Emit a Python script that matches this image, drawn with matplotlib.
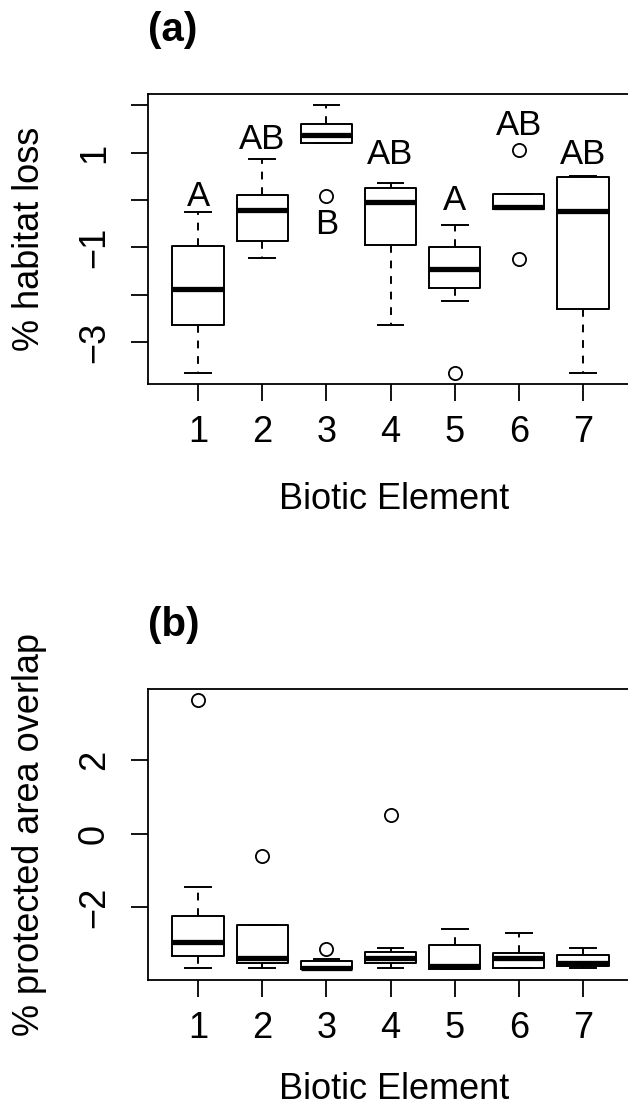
import numpy as np
import matplotlib
matplotlib.use("Agg")
from matplotlib import pyplot as plt

plt.rcParams['font.family'] = ['Liberation Sans', 'DejaVu Sans']

# Biotic elements 1..7
groups = [1, 2, 3, 4, 5, 6, 7]

# (a) % habitat loss, box stats
whislo_a = [-3.66, -1.23, 1.21, -2.65, -2.14, -0.18, -3.66]
q1_a = [-2.65, -0.86, 1.21, -0.95, -1.85, -0.18, -2.30]
med_a = [-1.88, -0.21, 1.37, -0.05, -1.45, -0.15, -0.23]
q3_a = [-0.98, 0.10, 1.61, 0.26, -1.00, 0.13, 0.49]
whishi_a = [-0.25, 0.86, 2.01, 0.35, -0.53, 0.13, 0.51]
fliers_a = [[], [], [0.09], [], [-3.66], [1.05, -1.24], []]
letters_a = ["A", "AB", "B", "AB", "A", "AB", "AB"]
letter_y_a = [0.07, 1.28, -0.52, 0.97, -0.02, 1.58, 0.97]

# (b) % protected area overlap
whislo_b = [-3.66, -3.66, -3.69, -3.66, -3.68, -3.66, -3.66]
q1_b = [-3.33, -3.53, -3.69, -3.53, -3.68, -3.66, -3.60]
med_b = [-2.95, -3.37, -3.65, -3.38, -3.61, -3.37, -3.52]
q3_b = [-2.24, -2.49, -3.46, -3.22, -3.04, -3.25, -3.30]
whishi_b = [-1.45, -2.49, -3.42, -3.12, -2.58, -2.71, -3.12]
fliers_b = [[3.65], [-0.61], [-3.13], [0.51], [], [], []]


def make_stats(lo, q1, med, q3, hi, fl):
    return [dict(whislo=lo[i], q1=q1[i], med=med[i], q3=q3[i], whishi=hi[i],
                 fliers=fl[i]) for i in range(len(groups))]


def draw_panel(ax, stats, ylabel, yticks, ytlabels, ylim, title, xlab_y):
    lw = 1.4
    ax.bxp(stats, positions=groups, widths=0.8, showfliers=True,
           boxprops=dict(color='black', linewidth=lw),
           medianprops=dict(color='black', linewidth=3.8, solid_capstyle='butt'),
           whiskerprops=dict(color='black', linewidth=lw, linestyle=(0, (4, 4))),
           capprops=dict(color='black', linewidth=lw),
           capwidths=0.4,
           flierprops=dict(marker='o', markerfacecolor='none', markeredgecolor='black',
                           markersize=9.5, markeredgewidth=1.3))
    ax.set_xlim(0.22, 7.78)
    ax.set_ylim(*ylim)
    ax.set_xticks(groups)
    ax.set_xticklabels([str(g) for g in groups])
    ax.set_yticks(yticks)
    ax.set_yticklabels(ytlabels, rotation=90, va='center')
    ax.tick_params(axis='both', length=12, width=1.3, labelsize=26, direction='out')
    ax.tick_params(axis='x', pad=10)
    ax.tick_params(axis='y', pad=14)
    for s in ax.spines.values():
        s.set_linewidth(1.3)
    ax.set_xlabel("Biotic Element", fontsize=26, va='baseline')
    ax.xaxis.set_label_coords(0.507, xlab_y)
    ax.set_ylabel(ylabel, fontsize=26, va='center')
    ax.yaxis.set_label_coords(-0.245, 0.5)
    ax.text(0.0, 1.182, title, transform=ax.transAxes, fontsize=29,
            fontweight='bold', ha='left', va='baseline')


fig = plt.figure(figsize=(6.28, 11.09), dpi=100)
ax1 = fig.add_axes([0.2357, 0.6537, 0.7723, 0.2615])
ax2 = fig.add_axes([0.2357, 0.1163, 0.7723, 0.2624])

draw_panel(ax1, make_stats(whislo_a, q1_a, med_a, q3_a, whishi_a, fliers_a),
           "% habitat loss", [2, 1, 0, -1, -2, -3],
           ["", "1", "", "\u22121", "", "\u22123"], (-3.89, 2.24), "(a)", -0.432)
for g, lab, y in zip(groups, letters_a, letter_y_a):
    ax1.text(g, y, lab, fontsize=25, ha='center', va='center')

draw_panel(ax2, make_stats(whislo_b, q1_b, med_b, q3_b, whishi_b, fliers_b),
           "% protected area overlap", [2, 0, -2],
           ["2", "0", "\u22122"], (-3.98, 3.94), "(b)", -0.41)

fig.savefig("out.png", dpi=100)
